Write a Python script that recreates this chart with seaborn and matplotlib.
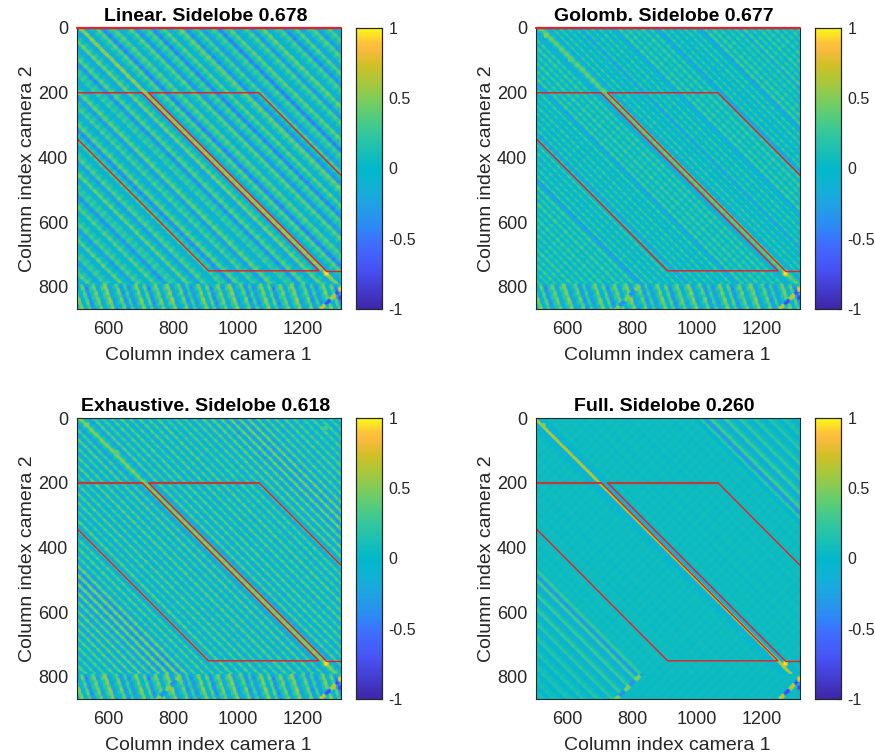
import matplotlib
matplotlib.use('Agg')
import matplotlib.pyplot as plt
from matplotlib.colors import LinearSegmentedColormap
import numpy as np
import pandas as pd
import seaborn as sns

titles = ['Linear. Sidelobe 0.678', 'Golomb. Sidelobe 0.677',
          'Exhaustive. Sidelobe 0.618', 'Full. Sidelobe 0.260']

linear_step = 17
linear_levels = [
    -.12, .22, .05, -.28, .24, .02, -.18, .28, .06, -.34,
    .18, .08, -.22, .30, .00, -.36, .22, .06, -.14, .26,
    .04, -.42, .16, .10, -.24, .32, .02, -.36, .24, .05,
    -.18, .20, .08, -.46, .28, .03, -.26, .22, .06, -.38,
    .30, .04, -.22, .16, .10, -.44, .26, .02, -.30, .34,
    .05, -.30, .46, -.28, .06, .28, -.48, .10, .26, -.24,
    .05, .30, -.40, .08, .22, -.50, .04, .28, -.22, .10,
    .32, -.44, .02, .24, -.36, .06, .20, -.52, .08, .30,
    -.26, .04, .24, -.40, .10, .32, -.20, .05, .22, -.46,
    .02, .28, -.30, .08, .26, -.38, .06, .24, -.22, .04]

golomb_step = 12
golomb_levels = [
    .14, -.12, .18, -.16, .12, -.10, .20, -.14, .16, -.18,
    .12, -.12, .18, -.10, .14, -.16, .20, -.12, .12, -.14,
    .16, -.18, .14, -.10, .18, -.14, .12, -.16, .20, -.12,
    .14, -.18, .20, -.12, -.36, .22, -.14, .18, -.12, .14,
    -.16, .16, -.12, .20, -.14, .12, -.32, .18, -.12, .16,
    -.14, .14, -.10, .18, -.16, .12, -.12, .20, -.12, -.36,
    .20, -.12, .14, -.16, .18, -.10, .12, -.14, .18, -.12,
    .14, -.16, -.24, .10, .34, .08, -.26, .16, -.12, .18,
    -.14, .12, -.16, .14, -.32, .18, -.12, .14, -.10, .18,
    -.16, .12, -.14, -.30, .20, -.12, .16, -.14, .12, -.10,
    .18, -.16, .14, -.12, -.30, .18, -.10, .14, -.16, .12,
    -.12, .20, -.14, .16, -.12, -.38, .22, -.14, .18, -.10,
    .14, -.16, .12, -.12, .16, -.32, .20, -.14, .12, -.16,
    .18, -.10, .14, -.12, .16, -.14, .12, -.16, .14, -.10, .12]

exhaustive_step = 14
exhaustive_levels = [
    .20, -.22, .26, -.18, .22, -.26, .18, -.20, .28, -.22,
    .20, -.28, .24, -.18, .26, -.24, .30, -.32, .30, -.28,
    .32, -.36, .28, -.38, .36, -.42, .40, -.46, .42, -.46,
    .36, -.30, .22, -.24, .26, -.20, .22, -.26, .20, -.22,
    .28, -.24, .18, -.26, .24, -.20, .26, -.28, .22, -.24,
    .20, -.26, .28, -.22, .24, -.28, .20, -.24, .28, -.30,
    .22, -.34, .04, .42, .04, -.34, .26, -.26, .22, -.28,
    .24, -.22, .26, -.24, .20, -.28, .26, -.20, .22, -.26,
    .28, -.22, .20, -.26, .24, -.20, .22, -.28, .24, -.26,
    .28, -.28, .30, -.30, .30, -.38, .36, -.40, .38, -.40,
    .36, -.36, .30, -.30, .26, -.28, .24, -.28, .26, -.22,
    .24, -.26, .20, -.22, .24, -.20, .22, -.24, .18, -.20, .22]

full_step = 15
full_levels = [
    .02, -.02, .04, -.06, .05, .02, -.08, .08, .03, -.10,
    .10, .02, -.12, .12, .02, -.16, .16, .02, -.18, .20,
    .02, -.22, .22, .02, -.26, .26, -.38, .20, .00, .02,
    .00, .03, -.01, .01, .03, .00, .02, .01, .03, -.01,
    .02, .00, .03, .01, -.01, .02, .03, .00, .02, .01,
    .03, .00, .02, .01, .03, .00, -.02, -.20, .62, -.20,
    -.02, .03, .00, .02, .01, .03, .00, .02, -.01, .03,
    .01, .00, .02, .03, .00, .02, .01, -.01, .03, .00,
    .02, .01, .03, .00, .02, .01, -.01, .03, .00, .02,
    .03, -.10, .18, -.38, .26, .02, -.26, .22, .02, -.22,
    .20, .02, -.18, .16, .02, -.14, .14, .02, -.10, .10,
    .02, -.08, .06]

# short ripple across the stripes, read along the anti-diagonals
ripple_levels = [.07, -.06, .09, -.08, .04, -.09, .08, -.05, .06, -.07]

# the blotchy strip under the row 790 seam
band_step = 12
band_levels = [-.30, .05, .32, -.14, .24, -.36, .08, .28, -.22, .12, .34, -.28, .02, .26, -.32, .16]
band_row_gain = [1.0, .8, .9, .7, 1.0, .8, .85, .7]

# anti-diagonal ridges under the seam (column + row) and what alternates on them
chevron_sums = [1618, 2122]
chevron_levels = [[.50, -.40], [.70, -.76]]

# bright or dark spots: column, row, correlation
common_spots = [(1272, 757, .95), (1316, 806, .9), (1316, 832, -.8)]
golomb_spots = [(535, 22, .5), (608, 95, .4)]
exhaustive_spots = [(533, 20, .5), (625, 105, .4), (1270, 30, .3)]
full_spots = [(525, 20, .5)]

# red outline, in data coordinates
red_lines = [
    ([503, 705, 1250, 910, 503], [200, 200, 750, 750, 340]),
    ([725, 1065, 1318], [200, 200, 455]),
    ([725, 1272], [200, 750]),
    ([1272, 1318], [750, 750]),
]
top_line_x = [503, 1318]
top_line_y = [0, 0]
double_line_x = [503, 705, None, 725, 1065]
double_line_y = [200, 200, None, 200, 200]

x_ticks = [600, 800, 1000, 1200]
y_ticks = [0, 200, 400, 600, 800]
x_limits = [503, 1318]
y_limits = [868, 0]
bar_ticks = [-1, -0.5, 0, 0.5, 1]
bar_labels = ['-1', '-0.5', '0', '0.5', '1']

parula_stops = [
    (0.00, (.2422, .1504, .6603)), (.143, (.2810, .3228, .9579)),
    (.238, (.2440, .4358, .9988)), (.286, (.1786, .5289, .9682)),
    (.333, (.1540, .5902, .9218)), (.430, (.0689, .6948, .8394)),
    (.500, (.0036, .7203, .7917)), (.560, (.0964, .7500, .7120)),
    (.620, (.1938, .7758, .6251)), (.690, (.3406, .8008, .4789)),
    (.750, (.5044, .7993, .3480)), (.810, (.6720, .7793, .2227)),
    (.870, (.8203, .7498, .1535)), (.920, (.9728, .7298, .2394)),
    (.950, (.9970, .7659, .2199)), (1.00, (.9769, .9839, .0805)),
]
parula = LinearSegmentedColormap.from_list('parula', parula_stops)

CELL = 2
cols = np.arange(500, 1324, CELL)
rows = np.arange(0, 872, CELL)


def soften(z, passes=2):
    # the reference was resampled, so neighbouring cells run together
    for _ in range(passes):
        z = (z + np.roll(z, 1, 0) + np.roll(z, -1, 0) + np.roll(z, 1, 1) + np.roll(z, -1, 1)) / 5
    return z


def build_panel(levels, step, ripple_gain, band_gain, base=0.07, left_chevron=True,
                cut_sum=None, spots=()):
    levels = np.array(levels)
    ripple = np.array(ripple_levels)
    tile = np.array(band_levels)
    row_gain = np.array(band_row_gain)
    C, R = np.meshgrid(cols, rows)
    idx = np.clip(np.round((C - R + 370) / step).astype(int), 0, len(levels) - 1)
    z = levels[idx] + base
    if cut_sum is not None:
        z[(C - R < 60) & (C + R > cut_sum)] = base
    # below the seam the fringes run much steeper
    band = R >= 790
    if band_gain > 0:
        slant = np.round((C - 0.35 * R) / band_step).astype(int) % len(tile)
        gain = row_gain[(R // 8) % len(row_gain)]
        z[band] = (band_gain * tile[slant] * gain)[band] + base
    else:
        z[band & (C - R > 60) & (C - R < 1000)] = base
    z = z + ripple_gain * ripple[((C + R) // 16) % len(ripple)]
    for total, pair in zip(chevron_sums, chevron_levels):
        if total < 2000 and not left_chevron:
            continue
        on_ridge = band & (np.abs(C + R - total) < 9)
        z[on_ridge] = np.array(pair)[(C - R) // 32 % 2][on_ridge]
    for col, row, value in list(spots) + common_spots:
        z[(np.abs(C - col) < 8) & (np.abs(R - row) < 8)] = value
    return pd.DataFrame(soften(z), index=rows, columns=cols)


panels = [
    build_panel(linear_levels, linear_step, 0.9, 1.5, left_chevron=False),
    build_panel(golomb_levels, golomb_step, 0.8, 1.4, spots=golomb_spots),
    build_panel(exhaustive_levels, exhaustive_step, 0.8, 1.5, spots=exhaustive_spots),
    build_panel(full_levels, full_step, 0.2, 0, base=0.05, cut_sum=1620, spots=full_spots),
]

sns.set_theme(style='white')
plt.rcParams['font.family'] = ['Liberation Sans', 'DejaVu Sans']
dark = '#262626'

W, H = 875, 756
fig = plt.figure(figsize=(W / 100, H / 100), dpi=100)


def px_axes(left, top, right, bottom):
    return fig.add_axes([left / W, 1 - bottom / H, (right - left) / W, (bottom - top) / H])


lefts = [76.5, 535.5]
tops = [28, 418]
for i, (panel, title) in enumerate(zip(panels, titles)):
    left = lefts[i % 2]
    top = tops[i // 2]
    ax = px_axes(left, top, left + 264.5, top + 281)
    cax = px_axes(left + 279, top, left + 305, top + 281)
    sns.heatmap(panel, ax=ax, cbar_ax=cax, cmap=parula, vmin=-1, vmax=1,
                xticklabels=False, yticklabels=False, rasterized=True)
    ax.set_xlim((x_limits[0] - 500) / CELL, (x_limits[1] - 500) / CELL)
    ax.set_ylim(y_limits[0] / CELL, y_limits[1] / CELL)
    ax.set_xticks([(t - 500) / CELL for t in x_ticks], [str(t) for t in x_ticks])
    ax.set_yticks([t / CELL for t in y_ticks], [str(t) for t in y_ticks])
    ax.tick_params(direction='in', length=3, width=0.8, color=dark, top=True, right=True,
                   bottom=True, left=True, labelsize=13, labelcolor=dark)
    ax.tick_params(axis='x', pad=9)
    ax.tick_params(axis='y', pad=6)
    ax.set_xlabel('Column index camera 1', fontsize=14, color=dark, labelpad=6)
    ax.set_ylabel('Column index camera 2', fontsize=14, color=dark, labelpad=1)
    ax.set_title(title, fontsize=14, fontweight='bold', color='black', pad=5, x=0.487)
    for spine in ax.spines.values():
        spine.set_visible(True)
        spine.set_color(dark)
        spine.set_linewidth(0.8)

    for xs, ys in red_lines:
        ax.plot([(x - 500) / CELL for x in xs], [y / CELL for y in ys], color='#ee1c25', lw=1.0)
    if i < 2:
        ax.plot([(x - 500) / CELL for x in top_line_x], [y / CELL for y in top_line_y],
                color='#ee1c25', lw=1.6, clip_on=False, zorder=5)
    else:
        # in the lower panels the row 200 edge is drawn twice and reads heavier
        ax.plot([np.nan if x is None else (x - 500) / CELL for x in double_line_x],
                [np.nan if y is None else y / CELL for y in double_line_y],
                color='#c23a35', lw=1.6)

    cax.set_yticks(bar_ticks, bar_labels)
    cax.tick_params(direction='in', length=3, width=0.8, color=dark, left=True, right=True,
                    labelsize=11.5, labelcolor=dark, pad=5)
    for spine in cax.spines.values():
        spine.set_visible(True)
        spine.set_color(dark)
        spine.set_linewidth(0.8)

fig.savefig('out.png', dpi=100)
